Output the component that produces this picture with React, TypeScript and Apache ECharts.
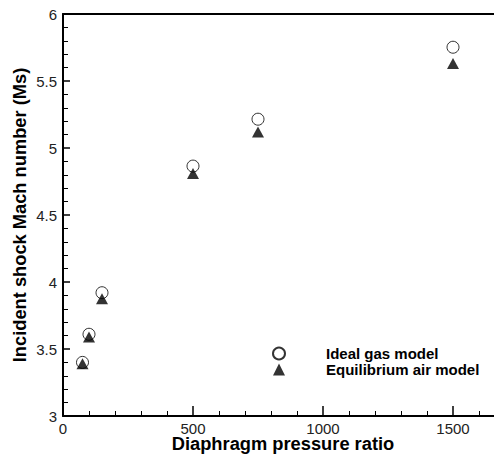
import React, { useEffect, useRef } from "react";
import * as echarts from "echarts";

const pressureRatios = [75, 100, 150, 500, 750, 1500];
const idealGasMs = [3.4, 3.61, 3.92, 4.865, 5.215, 5.752];
const equilibriumAirMs = [3.39, 3.59, 3.875, 4.81, 5.12, 5.63];
const seriesNames = ["Ideal gas model", "Equilibrium air model"];
const xTitle = "Diaphragm pressure ratio";
const yTitle = "Incident shock Mach number (Ms)";

export default function App() {
  const ref = useRef<HTMLDivElement>(null);
  useEffect(() => {
    if (!ref.current) return;
    const chart = echarts.init(ref.current, null, { renderer: "svg" });
    const font = "Arial, 'Liberation Sans', Helvetica, sans-serif";
    chart.setOption({
      animation: false,
      backgroundColor: "#fff",
      textStyle: { fontFamily: font },
      grid: {
        left: 63,
        top: 14,
        bottom: 41,
        right: 0,
        outerBoundsMode: "none",
        containLabel: false,
      },
      legend: {
        orient: "vertical",
        left: 267,
        top: 341,
        itemWidth: 12,
        itemHeight: 12,
        itemGap: 1,
        data: [
          { name: seriesNames[0], icon: "circle" },
          { name: seriesNames[1], icon: "triangle" },
        ],
        textStyle: {
          fontFamily: font,
          fontWeight: "bold",
          fontSize: 15,
          color: "#000",
          padding: [0, 0, 0, 36],
        },
      },
      xAxis: [
        {
          type: "value",
          min: 0,
          max: 2000,
          interval: 500,
          name: xTitle,
          nameLocation: "middle",
          nameGap: 18.5,
          nameMoveOverlap: false,
          nameTextStyle: {
            fontFamily: font,
            fontWeight: "bold",
            fontSize: 18.3,
            color: "#000",
            padding: [0, 80, 0, 0],
          },
          axisLine: { show: true, onZero: false, lineStyle: { color: "#000", width: 2 } },
          axisTick: { show: true, inside: true, length: 10, lineStyle: { color: "#000", width: 1.5 } },
          minorTick: { show: true, splitNumber: 5, length: 5, lineStyle: { color: "#000", width: 1 } },
          splitLine: { show: false },
          axisLabel: {
            fontFamily: font,
            fontSize: 15,
            color: "#222",
            margin: 5,
            showMaxLabel: false,
            formatter: (v: number) => String(v),
          },
        },
        {
          type: "value",
          position: "top",
          min: 0,
          max: 2000,
          interval: 500,
          axisLine: { show: true, onZero: false, lineStyle: { color: "#000", width: 2 } },
          axisTick: { show: false },
          minorTick: { show: false },
          splitLine: { show: false },
          axisLabel: { show: false },
        },
      ],
      yAxis: {
        type: "value",
        min: 3,
        max: 6,
        interval: 0.5,
        name: yTitle,
        nameLocation: "middle",
        nameGap: 35,
        nameMoveOverlap: false,
        nameTextStyle: { fontFamily: font, fontWeight: "bold", fontSize: 18.3, color: "#000" },
        axisLine: { show: true, onZero: false, lineStyle: { color: "#000", width: 2 } },
        axisTick: { show: true, inside: true, length: 7, lineStyle: { color: "#000", width: 1.5 } },
        minorTick: { show: true, splitNumber: 5, length: 5, lineStyle: { color: "#000", width: 1 } },
        splitLine: { show: false },
        axisLabel: { fontFamily: font, fontSize: 15, color: "#222", margin: 6 },
      },
      series: [
        {
          name: seriesNames[0],
          type: "scatter",
          symbol: "circle",
          symbolSize: 12,
          itemStyle: { color: "#fff", borderColor: "#000", borderWidth: 1 },
          data: pressureRatios.map((x, i) => [x, idealGasMs[i]]),
        },
        {
          name: seriesNames[1],
          type: "scatter",
          symbol: "triangle",
          symbolSize: [12, 11],
          itemStyle: { color: "#000" },
          data: pressureRatios.map((x, i) => [x, equilibriumAirMs[i]]),
        },
      ],
    });
    return () => chart.dispose();
  }, []);
  return (
    <div
      ref={ref}
      style={{ position: "fixed", left: 0, top: 0, width: 583, height: 457 }}
    />
  );
}
